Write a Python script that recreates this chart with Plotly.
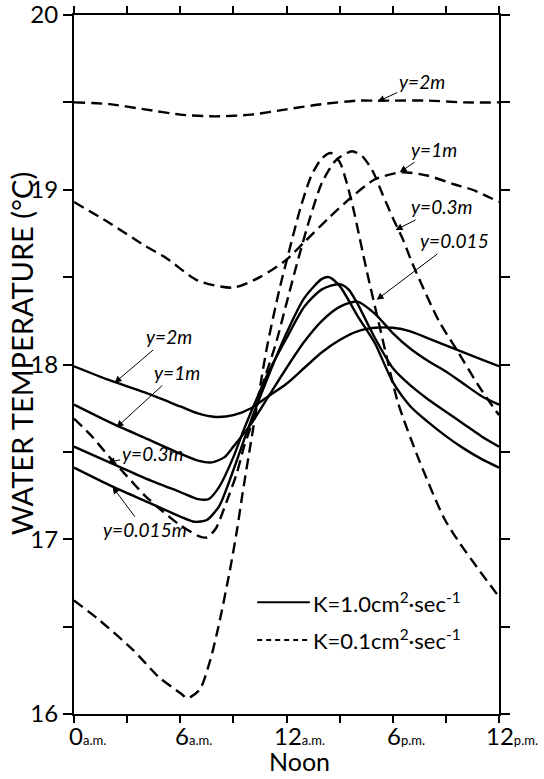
import plotly.graph_objects as go

# Diurnal water temperature at several depths y, for two eddy diffusivities K.
# Hours since midnight (0-24) and temperatures in deg C.

# K = 1.0 cm^2/sec (solid curves)
solid_2m_t = [0, 2, 4, 6, 7, 8, 9, 10, 11, 12, 13, 14, 15, 16, 17, 18, 19, 20, 21, 22, 23, 24]
solid_2m_T = [17.99, 17.91, 17.84, 17.76, 17.72, 17.70, 17.71, 17.75, 17.82, 17.89, 17.98, 18.07,
              18.14, 18.19, 18.21, 18.21, 18.19, 18.15, 18.11, 18.07, 18.03, 17.99]

solid_1m_t = [0, 2, 4, 6, 7, 7.8, 8.5, 9, 10, 11, 12, 13, 14, 15, 16, 17, 18, 19, 20, 21, 22, 23, 24]
solid_1m_T = [17.77, 17.67, 17.58, 17.49, 17.45, 17.44, 17.47, 17.53, 17.66, 17.82, 17.98, 18.13,
              18.25, 18.33, 18.36, 18.29, 18.18, 18.09, 18.02, 17.96, 17.89, 17.82, 17.77]

solid_03m_t = [0, 2, 4, 6, 7, 7.6, 8.2, 9, 9.6, 10.3, 11, 12, 13, 14, 15, 15.5, 16, 17, 18, 19,
               20, 21, 22, 23, 24]
solid_03m_T = [17.53, 17.44, 17.35, 17.27, 17.23, 17.23, 17.30, 17.47, 17.63, 17.80, 17.96, 18.15,
               18.33, 18.43, 18.46, 18.43, 18.35, 18.15, 17.98, 17.88, 17.80, 17.73, 17.66, 17.59, 17.53]

solid_0015m_t = [0, 2, 4, 6, 6.8, 7.5, 8.2, 8.8, 9.4, 10, 11, 12, 13, 14, 14.4, 15, 16, 17, 18,
                 19, 20, 21, 22, 23, 24]
solid_0015m_T = [17.41, 17.31, 17.22, 17.13, 17.10, 17.11, 17.19, 17.34, 17.51, 17.68, 17.94, 18.18,
                 18.38, 18.49, 18.50, 18.45, 18.28, 18.12, 17.90, 17.76, 17.67, 17.59, 17.52, 17.46, 17.41]

# K = 0.1 cm^2/sec (dashed curves)
dash_2m_t = [0, 2, 4, 6, 8, 10, 12, 14, 16, 17, 18, 20, 22, 24]
dash_2m_T = [19.50, 19.49, 19.46, 19.43, 19.42, 19.43, 19.46, 19.49, 19.51, 19.51, 19.51, 19.51,
             19.50, 19.50]

dash_1m_t = [0, 2, 4, 5.2, 7, 9, 10.5, 12, 13, 14.4, 15.7, 17, 18.5, 20, 21.5, 22.5, 24]
dash_1m_T = [18.93, 18.81, 18.68, 18.61, 18.48, 18.44, 18.50, 18.60, 18.70, 18.84, 18.96, 19.06,
             19.10, 19.08, 19.03, 19.00, 18.93]

dash_03m_t = [0, 1, 2, 3, 4, 5, 6, 7, 7.5, 8, 8.6, 9.2, 9.6, 10, 10.7, 11.4, 12, 12.6, 13.3, 14,
              14.8, 15.7, 16.3, 16.9, 17.4, 18, 18.6, 19.1, 20.6, 21.7, 22.9, 24]
dash_03m_T = [17.69, 17.59, 17.47, 17.36, 17.25, 17.16, 17.08, 17.02, 17.01, 17.06, 17.21, 17.38,
              17.53, 17.65, 17.90, 18.12, 18.35, 18.58, 18.83, 19.04, 19.17, 19.22, 19.19, 19.10,
              18.98, 18.84, 18.71, 18.58, 18.25, 18.07, 17.87, 17.71]

dash_0015m_t = [0, 1.4, 3.3, 4.8, 6, 6.4, 7.1, 7.7, 8.2, 8.8, 9.2, 9.5, 9.9, 10.9, 11.6, 12.2, 12.8,
                13.4, 14, 14.5, 15, 15.4, 15.8, 16.5, 17.3, 18.3, 19.5, 20.9, 21.7, 22.9, 24]
dash_0015m_T = [16.65, 16.54, 16.37, 16.21, 16.12, 16.09, 16.14, 16.31, 16.52, 16.82, 17.05, 17.25,
                17.50, 18.10, 18.43, 18.67, 18.90, 19.08, 19.18, 19.21, 19.16, 19.04, 18.88, 18.55,
                18.20, 17.78, 17.45, 17.12, 16.99, 16.82, 16.67]

# Time-of-day labels under the axis
x_tickvals = [0, 6, 12, 18, 24]
small = "<span style='font-size:13px'>{}</span>"
x_ticktext = ["0" + small.format("a.m."), "6" + small.format("a.m."),
              "12" + small.format("a.m."), "6" + small.format("p.m."),
              "12" + small.format("p.m.")]
noon_label = "Noon"
y_tickvals = [16, 17, 18, 19, 20]
y_ticktext = ["16", "17", "18", "19", "20"]

legend_solid = "K=1.0cm<sup>2</sup>·sec<sup>-1</sup>"
legend_dash = "K=0.1cm<sup>2</sup>·sec<sup>-1</sup>"

FONT = "Lato"
LW = 2.4
DASH = "11px,6px"

fig = go.Figure()

solid_series = [
    ("y=2m", solid_2m_t, solid_2m_T),
    ("y=1m", solid_1m_t, solid_1m_T),
    ("y=0.3m", solid_03m_t, solid_03m_T),
    ("y=0.015m", solid_0015m_t, solid_0015m_T),
]
dash_series = [
    ("y=2m", dash_2m_t, dash_2m_T),
    ("y=1m", dash_1m_t, dash_1m_T),
    ("y=0.3m", dash_03m_t, dash_03m_T),
    ("y=0.015m", dash_0015m_t, dash_0015m_T),
]

for name, t, T in solid_series:
    fig.add_trace(go.Scatter(
        x=t, y=T, mode="lines", name="K=1.0, " + name, showlegend=False,
        line=dict(color="black", width=LW, shape="spline", smoothing=0.7),
    ))

for name, t, T in dash_series:
    fig.add_trace(go.Scatter(
        x=t, y=T, mode="lines", name="K=0.1, " + name, showlegend=False,
        line=dict(color="black", width=LW, dash=DASH, shape="spline", smoothing=0.7),
    ))

# Depth labels with arrows: (text, arrow tip x, arrow tip y, text offset ax, ay)
labels = [
    ("y=2m", 2.29, 17.895, 54, -46),
    ("y=1m", 2.4, 17.64, 60, -55),
    ("y=0.3m", 1.9, 17.44, 45, -9),
    ("y=0.015m", 2.18, 17.30, 32, 43),
    ("y=2m", 17.15, 19.505, 44, -20),
    ("y=1m", 18.39, 19.10, 34, -23),
    ("y=0.3m", 18.16, 18.77, 46, -23),
    ("y=0.015", 17.09, 18.37, 78, -59),
]
for text, x, y, ax, ay in labels:
    fig.add_annotation(
        x=x, y=y, ax=ax, ay=ay, axref="pixel", ayref="pixel",
        text="<i>" + text + "</i>", showarrow=True,
        arrowhead=2, arrowsize=1.4, arrowwidth=1, arrowcolor="black",
        font=dict(family=FONT, size=19, color="black"),
    )

# Hour labels placed just below the bottom axis
for xv, txt in zip(x_tickvals, x_ticktext):
    fig.add_annotation(
        x=xv, xref="x", y=0, yref="paper", xanchor="center", yanchor="top",
        xshift=13, yshift=-5, text=txt, showarrow=False,
        font=dict(family=FONT, size=24, color="black"),
    )
fig.add_annotation(
    x=12, xref="x", y=0, yref="paper", xanchor="center", yanchor="bottom",
    xshift=13, yshift=-64, text=noon_label, showarrow=False,
    font=dict(family=FONT, size=25, color="black"),
)

# Key: sample line + text for each diffusivity
key_rows = [(legend_solid, "solid", 0.160), (legend_dash, "5px,4px", 0.106)]
for text, dash, ky in key_rows:
    fig.add_shape(
        type="line", xref="paper", yref="paper", x0=0.431, x1=0.555, y0=ky, y1=ky,
        line=dict(color="black", width=2, dash=dash),
    )
    fig.add_annotation(
        xref="paper", yref="paper", x=0.557, y=ky, xanchor="left", yanchor="middle",
        text=text, showarrow=False, font=dict(family=FONT, size=22, color="black"),
    )

# Vertical axis title
fig.add_annotation(
    xref="paper", yref="paper", x=-0.125, y=0.516, xanchor="center", yanchor="middle",
    text="WATER TEMPERATURE (°C)", textangle=-90, showarrow=False,
    font=dict(family=FONT, size=29, color="black"),
)

axis_common = dict(
    showline=True, linewidth=2, linecolor="black", mirror="ticks",
    ticks="outside", tickwidth=1.5, tickcolor="black",
    showgrid=False, zeroline=False, automargin=False, ticklabeloverflow="allow",
)

fig.update_xaxes(
    range=[0, 24], tickmode="array", tickvals=x_tickvals, showticklabels=False,
    ticklen=7,
    minor=dict(dtick=3, ticks="outside", ticklen=7, tickwidth=1.5, tickcolor="black", showgrid=False),
    **axis_common,
)
fig.update_yaxes(
    range=[16, 20], tickmode="array", tickvals=y_tickvals, ticktext=y_ticktext,
    ticklen=9, tickfont=dict(family=FONT, size=24, color="black"),
    minor=dict(dtick=0.5, ticks="outside", ticklen=9, tickwidth=1.5, tickcolor="black", showgrid=False),
    **axis_common,
)

fig.update_layout(
    width=544, height=779, autosize=False,
    margin=dict(l=74, r=45, t=15, b=65),
    plot_bgcolor="white", paper_bgcolor="white",
    font=dict(family=FONT, color="black"),
    showlegend=False,
)

fig.write_html("out.html")
